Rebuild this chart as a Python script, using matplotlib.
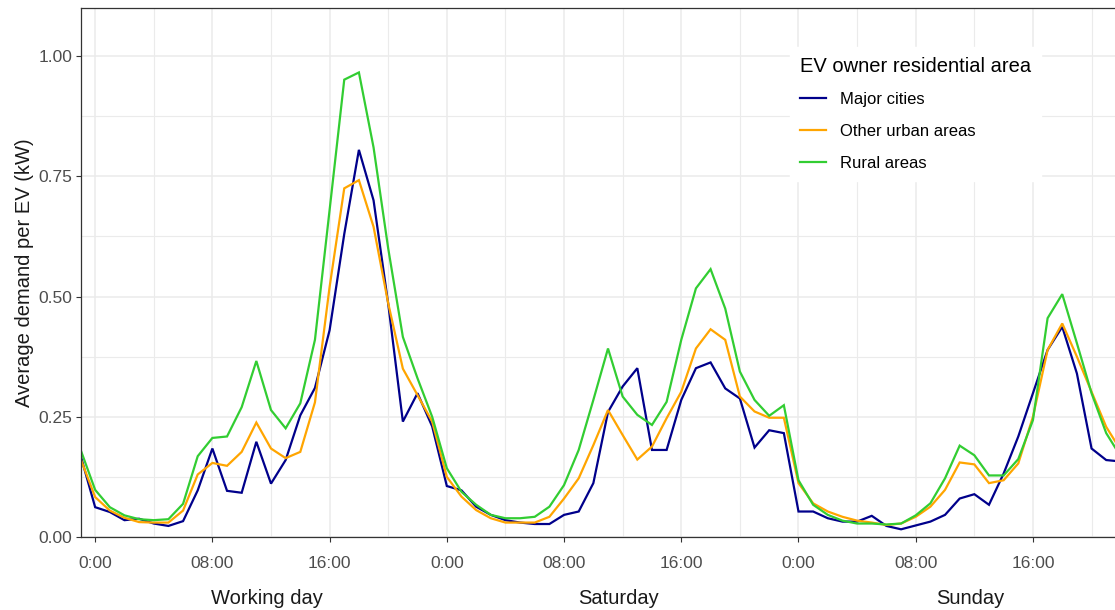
import matplotlib
matplotlib.use("Agg")
import matplotlib.pyplot as plt
import matplotlib.transforms as mtransforms
from matplotlib.ticker import MultipleLocator, FixedLocator

plt.rcParams['font.family'] = ['Liberation Sans', 'DejaVu Sans']

# hourly average demand per EV (kW), 72 hourly points, index 1 = 0:00 of the working day
major_cities = [0.170, 0.062, 0.052, 0.035, 0.038, 0.028, 0.023, 0.033, 0.097, 0.184,
                0.096, 0.092, 0.198, 0.111, 0.160, 0.253, 0.310, 0.430, 0.630, 0.805,
                0.700, 0.485, 0.240, 0.299, 0.230, 0.106, 0.097, 0.063, 0.046, 0.035,
                0.030, 0.027, 0.027, 0.046, 0.053, 0.112, 0.260, 0.313, 0.351, 0.181,
                0.181, 0.285, 0.351, 0.363, 0.309, 0.288, 0.186, 0.222, 0.216, 0.053,
                0.053, 0.039, 0.032, 0.032, 0.044, 0.023, 0.016, 0.024, 0.032, 0.046,
                0.080, 0.089, 0.067, 0.132, 0.209, 0.299, 0.389, 0.437, 0.340, 0.184,
                0.160, 0.157]
other_urban = [0.163, 0.083, 0.055, 0.040, 0.031, 0.030, 0.030, 0.055, 0.130, 0.154,
               0.148, 0.177, 0.238, 0.184, 0.164, 0.177, 0.280, 0.520, 0.725, 0.742,
               0.645, 0.486, 0.350, 0.295, 0.240, 0.125, 0.084, 0.056, 0.039, 0.030,
               0.030, 0.030, 0.042, 0.080, 0.122, 0.191, 0.264, 0.212, 0.161, 0.188,
               0.247, 0.302, 0.392, 0.432, 0.410, 0.292, 0.261, 0.248, 0.248, 0.112,
               0.070, 0.053, 0.042, 0.034, 0.030, 0.025, 0.028, 0.042, 0.063, 0.098,
               0.155, 0.151, 0.112, 0.118, 0.153, 0.250, 0.389, 0.444, 0.375, 0.302,
               0.229, 0.180]
rural = [0.182, 0.098, 0.062, 0.045, 0.037, 0.035, 0.037, 0.069, 0.168, 0.206,
         0.209, 0.270, 0.366, 0.264, 0.226, 0.278, 0.410, 0.680, 0.951, 0.966,
         0.810, 0.600, 0.416, 0.330, 0.250, 0.143, 0.094, 0.067, 0.046, 0.039,
         0.039, 0.042, 0.063, 0.108, 0.181, 0.285, 0.392, 0.292, 0.254, 0.233,
         0.281, 0.410, 0.517, 0.557, 0.475, 0.344, 0.285, 0.252, 0.274, 0.118,
         0.067, 0.046, 0.034, 0.028, 0.028, 0.026, 0.028, 0.045, 0.070, 0.122,
         0.190, 0.170, 0.128, 0.128, 0.162, 0.243, 0.455, 0.505, 0.403, 0.299,
         0.216, 0.167]

series_names = ["Major cities", "Other urban areas", "Rural areas"]
series_colors = ["#00008B", "#FFA500", "#32CD32"]
hour_labels = ["0:00", "08:00", "16:00"] * 3
day_names = ["Working day", "Saturday", "Sunday"]

hours = list(range(len(major_cities)))
tick_hours = hours[1::8]

fig = plt.figure(figsize=(11.15, 6.1), dpi=100)
ax = fig.add_axes([80.5 / 1115, 73 / 610, 1 - 80.5 / 1115, 529 / 610])

for vals, name, col in zip([major_cities, other_urban, rural], series_names, series_colors):
    ax.plot(hours, vals, color=col, lw=1.6, label=name, solid_joinstyle='miter')

ax.set_xlim(0, 70.6)
ax.set_ylim(0, 1.1)

ax.xaxis.set_major_locator(FixedLocator(tick_hours))
ax.xaxis.set_minor_locator(FixedLocator([h + 4 for h in tick_hours]))
ax.set_xticklabels(hour_labels)
ax.yaxis.set_major_locator(MultipleLocator(0.25))
ax.yaxis.set_minor_locator(MultipleLocator(0.125))
ax.yaxis.set_major_formatter(plt.FormatStrFormatter('%.2f'))

ax.grid(which='major', color='#EBEBEB', lw=1.1)
ax.grid(which='minor', color='#EBEBEB', lw=0.8)
ax.set_axisbelow(True)

ax.tick_params(axis='both', which='major', length=3.5, width=0.8, color='#333333',
               labelcolor='#4D4D4D', labelsize=12.5)
ax.tick_params(axis='x', which='major', pad=10)
ax.tick_params(axis='y', which='major', pad=2.5)
ax.tick_params(which='minor', length=0)

for s in ['left', 'bottom', 'top']:
    ax.spines[s].set_color('#333333')
    ax.spines[s].set_linewidth(0.9)
ax.spines['right'].set_visible(False)

ax.set_ylabel("Average demand per EV (kW)", fontsize=14.5, color='#1a1a1a', labelpad=3)

# day names under the hour labels
trans = mtransforms.blended_transform_factory(ax.transData, ax.transAxes)
for k, day in enumerate(day_names):
    ax.text(12.7 + 24 * k, -0.127, day, transform=trans, ha='center', va='baseline',
            fontsize=14.5, color='#1a1a1a')

leg = ax.legend(title="EV owner residential area", loc='upper left',
                bbox_to_anchor=(0.686, 0.927), borderaxespad=0, frameon=True,
                fontsize=12, title_fontsize=14.5, handlelength=1.55,
                handletextpad=0.85, labelspacing=1.0, borderpad=0.6,
                fancybox=False, alignment='left')
leg.get_frame().set_facecolor('white')
leg.get_frame().set_edgecolor('white')
leg.get_frame().set_alpha(1)

fig.savefig("out.png", dpi=100)
